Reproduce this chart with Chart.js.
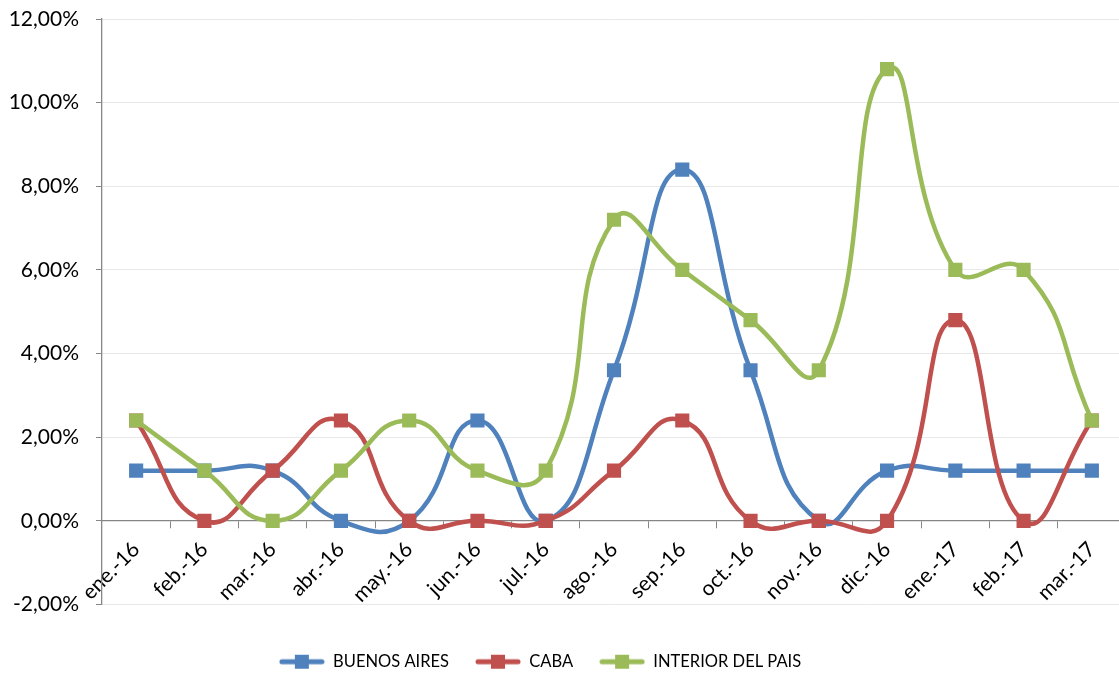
<!DOCTYPE html>
<html>
<head>
<meta charset="utf-8">
<script src="https://cdn.jsdelivr.net/npm/chart.js@4.4.1/dist/chart.umd.min.js"></script>
<style>
  html, body { margin: 0; padding: 0; background: #fff; overflow: hidden; }
</style>
</head>
<body>
<!-- the plot runs a little past the right edge of the window, as in the original -->
<canvas id="myChart" width="1136" height="674"></canvas>
<script>
// categories (months) and series values in %
const months = ["ene.-16", "feb.-16", "mar.-16", "abr.-16", "may.-16", "jun.-16", "jul.-16", "ago.-16",
                "sep.-16", "oct.-16", "nov.-16", "dic.-16", "ene.-17", "feb.-17", "mar.-17"];
const buenosAires = [1.2, 1.2, 1.2, 0, 0, 2.4, 0, 3.6, 8.4, 3.6, 0, 1.2, 1.2, 1.2, 1.2];
const caba = [2.4, 0, 1.2, 2.4, 0, 0, 0, 1.2, 2.4, 0, 0, 0, 4.8, 0, 2.4];
const interiorDelPais = [2.4, 1.2, 0, 1.2, 2.4, 1.2, 1.2, 7.2, 6.0, 4.8, 3.6, 10.8, 6.0, 6.0, 2.4];
const yMin = -2, yMax = 12, yStep = 2;

const FONT = "Lato, 'Open Sans', sans-serif";
const axisGray = '#868686';

function legendIcon(color) {
    const c = document.createElement('canvas');
    c.width = 46; c.height = 16;
    const g = c.getContext('2d');
    g.strokeStyle = color;
    g.lineWidth = 5;
    g.lineCap = 'round';
    g.beginPath();
    g.moveTo(3, 8);
    g.lineTo(43, 8);
    g.stroke();
    g.fillStyle = color;
    g.fillRect(16, 1, 14, 14);
    return c;
}

function series(label, data, color, order) {
    return {
        label: label,
        data: data,
        borderColor: color,
        backgroundColor: color,
        borderWidth: 4.5,
        tension: 0.5,
        pointStyle: 'rect',
        pointRadius: 10,
        pointHoverRadius: 10,
        pointBorderWidth: 0,
        order: order
    };
}

const datasets = [
    series("BUENOS AIRES", buenosAires, '#4F81BD', 2),
    series("CABA", caba, '#C0504D', 1),
    series("INTERIOR DEL PAIS", interiorDelPais, '#9BBB59', 0)
];
const icons = datasets.map(d => legendIcon(d.borderColor));

// nudge the legend a bit lower and to the left
const legendShift = {
    id: 'legendShift',
    afterLayout(chart) {
        const lg = chart.legend;
        lg.left -= 26; lg.right -= 26;
        lg.top += 23; lg.bottom += 23;
    }
};

new Chart(document.getElementById("myChart"), {
    type: 'line',
    data: { labels: months, datasets: datasets },
    plugins: [legendShift],
    options: {
        responsive: false,
        animation: false,
        layout: { padding: { top: 19, right: 4, bottom: 17, left: 0 } },
        plugins: {
            tooltip: { enabled: false },
            legend: {
                position: 'bottom',
                labels: {
                    usePointStyle: true,
                    pointStyleWidth: 46,
                    padding: 26,
                    color: '#000',
                    font: { family: FONT, size: 16.5 },
                    generateLabels: chart => chart.data.datasets.map((ds, i) => ({
                        text: ds.label,
                        pointStyle: icons[i],
                        fillStyle: ds.borderColor,
                        strokeStyle: ds.borderColor,
                        lineWidth: 0,
                        hidden: false,
                        datasetIndex: i
                    }))
                }
            }
        },
        scales: {
            x: {
                position: { y: 0 },
                offset: true,
                afterFit: scale => { scale.height = 0; scale.paddingLeft = 0; scale.paddingRight = 0; },
                border: { color: axisGray, width: 1.3 },
                grid: { offset: true, drawOnChartArea: false, drawTicks: true, tickLength: 7, tickColor: axisGray },
                ticks: {
                    autoSkip: false,
                    minRotation: 45,
                    maxRotation: 45,
                    padding: 9,
                    color: '#000',
                    font: { family: FONT, size: 21 }
                }
            },
            y: {
                min: yMin,
                max: yMax,
                afterFit: scale => { scale.width = 102; scale.paddingTop = 0; scale.paddingBottom = 0; },
                border: { color: axisGray, width: 1.3 },
                grid: { color: '#e8e8e8', lineWidth: 1, tickLength: 6, tickColor: axisGray },
                ticks: {
                    stepSize: yStep,
                    padding: 17,
                    color: '#000',
                    font: { family: FONT, size: 21 },
                    callback: v => v.toFixed(2).replace('.', ',') + '%'
                }
            }
        }
    }
});
</script>
</body>
</html>
